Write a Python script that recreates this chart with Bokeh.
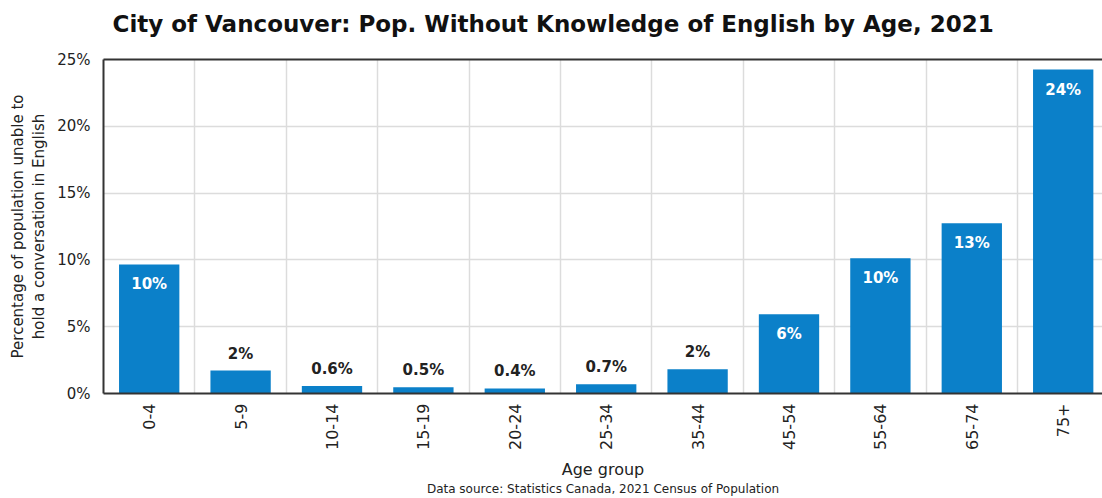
from bokeh.plotting import figure
from bokeh.models import (Range1d, FixedTicker, Grid, LinearAxis, Title,
                          ColumnDataSource, CustomJSTickFormatter)
from bokeh.core.properties import value
from bokeh.embed import file_html
from bokeh.resources import INLINE

age_groups = ["0-4", "5-9", "10-14", "15-19", "20-24", "25-34", "35-44",
              "45-54", "55-64", "65-74", "75+"]
pct_values = [9.66, 1.72, 0.57, 0.47, 0.38, 0.70, 1.82, 5.94, 10.13, 12.75, 24.25]
bar_labels = ["10%", "2%", "0.6%", "0.5%", "0.4%", "0.7%", "2%", "6%", "10%", "13%", "24%"]
y_ticks = [0, 5, 10, 15, 20, 25]
title_text = "City of Vancouver: Pop. Without Knowledge of English by Age, 2021"
source_text = "Data source: Statistics Canada, 2021 Census of Population"

FONT = "DejaVu Sans"
BLUE = "#0b80c9"
DARK = "#222222"

xs = [i + 0.5 for i in range(len(age_groups))]
inside = [v >= 5 for v in pct_values]

p = figure(width=1102, height=498, output_backend="svg", toolbar_location=None,
           x_range=Range1d(0, 10.93), y_range=Range1d(0, 25),
           min_border_left=103, min_border_top=59, min_border_bottom=105,
           min_border_right=0, x_axis_type="linear")

p.title.text = title_text
p.title.align = "left"
p.title.offset = 9
p.title.text_font = FONT
p.title.text_font_style = "bold"
p.title.text_font_size = "23px"
p.title.text_color = "#111111"
p.title.standoff = 0

p.outline_line_color = None
p.background_fill_color = "white"
p.border_fill_color = "white"

# grids
p.xgrid.visible = False
p.ygrid.ticker = FixedTicker(ticks=y_ticks)
p.ygrid.grid_line_color = "#dcdcdc"
p.ygrid.grid_line_width = 1.5
vgrid = Grid(dimension=0, ticker=FixedTicker(ticks=list(range(1, len(age_groups)))),
             grid_line_color="#dcdcdc", grid_line_width=1.5)
p.add_layout(vgrid)

# bars
src = ColumnDataSource(dict(x=xs, top=pct_values, lab=bar_labels))
p.vbar(x="x", top="top", width=0.66, bottom=0, source=src, fill_color=BLUE,
       line_color=None)

# labels
in_src = ColumnDataSource(dict(x=[x for x, f in zip(xs, inside) if f],
                               y=[v for v, f in zip(pct_values, inside) if f],
                               t=[l for l, f in zip(bar_labels, inside) if f]))
out_src = ColumnDataSource(dict(x=[x for x, f in zip(xs, inside) if not f],
                                y=[v for v, f in zip(pct_values, inside) if not f],
                                t=[l for l, f in zip(bar_labels, inside) if not f]))
p.text(x="x", y="y", text="t", source=in_src, text_font=value(FONT),
       text_font_size="15px", text_font_style="bold", text_color="white",
       text_align="center", text_baseline="middle", y_offset=20)
p.text(x="x", y="y", text="t", source=out_src, text_font=value(FONT),
       text_font_size="15px", text_font_style="bold", text_color=DARK,
       text_align="center", text_baseline="middle", y_offset=-17)

# y axis
ya = p.yaxis[0]
ya.ticker = FixedTicker(ticks=y_ticks)
ya.formatter = CustomJSTickFormatter(code="return tick + '%';")
ya.axis_label = "Percentage of population unable to\nhold a conversation in English"
ya.axis_label_text_font = FONT
ya.axis_label_text_font_style = "normal"
ya.axis_label_text_font_size = "15px"
ya.axis_label_text_color = DARK
ya.axis_label_standoff = 6
ya.major_label_text_font = FONT
ya.major_label_text_font_size = "15px"
ya.major_label_text_color = DARK
ya.major_label_standoff = 13
ya.major_tick_line_color = None
ya.minor_tick_line_color = None
ya.major_tick_out = 0
ya.major_tick_in = 0
ya.axis_line_color = "#333333"
ya.axis_line_width = 2

# x axis
xa = p.xaxis[0]
xa.ticker = FixedTicker(ticks=xs)
xa.major_label_overrides = {x: g for x, g in zip(xs, age_groups)}
xa.major_label_orientation = 3.14159265 / 2
xa.major_label_text_font = FONT
xa.major_label_text_font_size = "16px"
xa.major_label_text_color = DARK
xa.major_label_standoff = 10
xa.major_tick_line_color = None
xa.minor_tick_line_color = None
xa.major_tick_out = 0
xa.major_tick_in = 0
xa.axis_line_color = "#333333"
xa.axis_line_width = 2
xa.axis_label = "Age group"
xa.axis_label_text_font = FONT
xa.axis_label_text_font_style = "normal"
xa.axis_label_text_font_size = "16px"
xa.axis_label_text_color = DARK
xa.axis_label_standoff = 7

# top border line
top_axis = LinearAxis(ticker=FixedTicker(ticks=[]), major_label_text_font_size="0px",
                      major_tick_line_color=None, minor_tick_line_color=None,
                      major_tick_out=0, major_tick_in=0,
                      axis_line_color="#333333", axis_line_width=2)
p.add_layout(top_axis, "above")

# spacer between title and frame
spacer = Title(text=" ", text_font=FONT, text_font_size="18px", standoff=0,
               text_color="white")
p.add_layout(spacer, "above")

src_title = Title(text=source_text, align="center", text_font=FONT,
                  text_font_size="12px", text_font_style="normal",
                  text_color=DARK, standoff=0, vertical_align="top")
p.add_layout(src_title, "below")

open("out.html", "w").write(file_html(p, INLINE))
